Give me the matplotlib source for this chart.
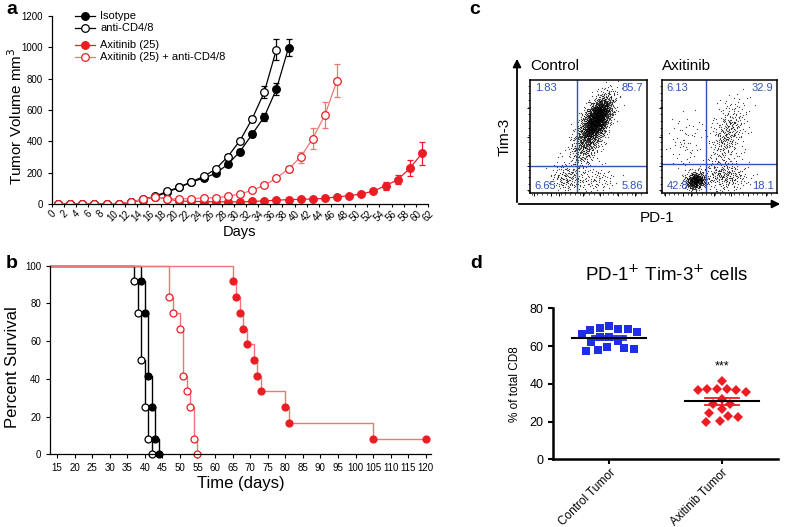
import numpy as np
import matplotlib
matplotlib.use('Agg')
import matplotlib.pyplot as plt
import matplotlib.patches as mpatches

plt.rcParams['font.family'] = ['Liberation Sans', 'DejaVu Sans']

# ---------------- panel a : tumour growth ----------------
iso_days = [1, 3, 5, 7, 9, 11, 13, 15, 17, 19, 21, 23, 25, 27, 29, 31, 33, 35, 37, 39]
iso_vol = [0, 0, 0, 0, 0, 2, 12, 28, 45, 76, 106, 140, 165, 195, 254, 335, 445, 557, 733, 997]
iso_err = [0, 0, 0, 0, 0, 1, 3, 5, 6, 8, 8, 10, 10, 12, 15, 18, 20, 25, 40, 55]

cd48_days = [1, 3, 5, 7, 9, 11, 13, 15, 17, 19, 21, 23, 25, 27, 29, 31, 33, 35, 37]
cd48_vol = [0, 0, 0, 0, 0, 2, 12, 30, 50, 80, 108, 142, 176, 223, 303, 405, 543, 714, 986]
cd48_err = [0, 0, 0, 0, 0, 1, 3, 5, 6, 8, 8, 10, 10, 12, 15, 18, 20, 40, 65]

axi_days = [1, 3, 5, 7, 9, 11, 13, 15, 17, 19, 21, 23, 25, 27, 29, 31, 33, 35, 37, 39,
            41, 43, 45, 47, 49, 51, 53, 55, 57, 59, 61]
axi_vol = [0, 0, 0, 0, 0, 2, 13, 28, 45, 32, 19, 17, 15, 14, 14, 13, 16, 20, 24, 28,
           30, 32, 36, 46, 53, 64, 82, 117, 155, 228, 323]
axi_err = [0, 0, 0, 0, 0, 1, 3, 4, 5, 4, 3, 3, 3, 3, 3, 3, 3, 3, 4, 4,
           4, 5, 5, 6, 6, 8, 12, 25, 30, 50, 75]

axicd_days = [1, 3, 5, 7, 9, 11, 13, 15, 17, 19, 21, 23, 25, 27, 29, 31, 33, 35, 37, 39,
              41, 43, 45, 47]
axicd_vol = [0, 0, 0, 0, 0, 3, 12, 30, 45, 35, 32, 35, 38, 40, 49, 64, 87, 119, 165, 225,
             299, 418, 568, 787]
axicd_err = [0, 0, 0, 0, 0, 1, 3, 4, 5, 4, 4, 4, 4, 4, 5, 6, 6, 8, 12, 20,
             35, 65, 80, 105]

# ---------------- panel b : survival ----------------
iso_t = [39, 40, 41, 42, 43, 44]
iso_s = [91.7, 75, 41.7, 25, 8.3, 0]
cd48_t = [37, 38, 39, 40, 41, 42]
cd48_s = [91.7, 75, 50, 25, 8.3, 0]
axicd_t = [47, 48, 50, 51, 52, 53, 54, 55]
axicd_s = [83.3, 75, 66.7, 41.7, 33.3, 25, 8.3, 0]
axi_t = [65, 66, 67, 68, 69, 71, 72, 73, 80, 81, 105, 120]
axi_s = [91.7, 83.3, 75, 66.7, 58.3, 50, 41.7, 33.3, 25, 16.7, 8.3, 8.3]

# ---------------- panel c : flow quadrants ----------------
flow_names = ['Control', 'Axitinib']
quad_vals = [['1.83', '85.7', '6.65', '5.86'], ['6.13', '32.9', '42.8', '18.1']]
quad_split = [(0.40, 0.24), (0.385, 0.255)]
# cloud shape: cx, cy, sx, sy, rho, weight
ctrl_clusters = [(0.58, 0.67, 0.065, 0.10, 0.55, 1.0),
                 (0.50, 0.50, 0.08, 0.14, 0.55, 0.30),
                 (0.31, 0.13, 0.07, 0.07, 0.0, 0.12),
                 (0.55, 0.12, 0.10, 0.06, 0.0, 0.06)]
axi_clusters = [(0.29, 0.11, 0.045, 0.04, 0.1, 1.0),
                (0.57, 0.52, 0.08, 0.15, 0.45, 0.13),
                (0.55, 0.15, 0.10, 0.07, 0.0, 0.14),
                (0.20, 0.45, 0.08, 0.15, 0.0, 0.02)]

# ---------------- panel d : PD-1+ Tim-3+ ----------------
groups_d = ['Control Tumor', 'Axitinib Tumor']
ctrl_pct = [70.8, 69.1, 66.2, 64.6, 68.5, 62.9, 64.6, 69.1, 67.3, 69.8, 62.0,
            59.7, 58.5, 57.6, 57.9, 58.8]
axi_pct = [41.7, 37.3, 37.1, 36.7, 35.9, 36.7, 37.3, 31.8, 29.3, 29.3, 26.7,
           24.7, 22.3, 23.0, 20.0, 20.5]

RED = '#ec1c24'
LRED = '#f37474'
BLUE = '#1f2ee6'
QBLUE = '#2f55b5'

W, H = 787, 527
fig = plt.figure(figsize=(W / 100, H / 100), dpi=100)


def rect(x0, y0, x1, y1):
    return [x0 / W, 1 - y1 / H, (x1 - x0) / W, (y1 - y0) / H]


def fpos(x, y):
    return x / W, 1 - y / H


# ---- a
ax = fig.add_axes(rect(52, 16, 428, 204))
series = [(iso_days, iso_vol, iso_err, 'k', 'k', 'k'),
          (cd48_days, cd48_vol, cd48_err, 'k', 'k', 'white'),
          (axi_days, axi_vol, axi_err, RED, RED, RED),
          (axicd_days, axicd_vol, axicd_err, LRED, RED, 'white')]
for d, v, e, lc, mec, mfc in series:
    ax.errorbar(d, v, yerr=e, color=lc, lw=0.9, marker='o', ms=5.5, mec=mec, mfc=mfc,
                mew=0.9, ecolor=lc, elinewidth=0.9, capsize=2.5, capthick=0.9)
ax.set_xlim(0, 62)
ax.set_ylim(0, 1200)
ax.set_xticks(range(0, 63, 2))
ax.set_xticklabels([str(i) for i in range(0, 63, 2)], rotation=45, fontsize=7)
ax.set_yticks(range(0, 1201, 200))
ax.tick_params(axis='y', labelsize=7, length=3, width=0.8)
ax.tick_params(axis='x', length=2.5, width=0.8, pad=1)
for s in ['top', 'right']:
    ax.spines[s].set_visible(False)
for s in ['left', 'bottom']:
    ax.spines[s].set_linewidth(0.9)
ax.set_xlabel('Days', fontsize=10.5, labelpad=1)
ax.set_ylabel('Tumor Volume mm$^3$', fontsize=11)
ax.yaxis.set_label_coords(-0.072, 0.468)

leg_rows = [('Isotype', 'k', 'k', 'k', 1.0),
            ('anti-CD4/8', 'k', 'k', 'white', 0.936),
            ('Axitinib (25)', RED, RED, RED, 0.848),
            ('Axitinib (25) + anti-CD4/8', LRED, RED, 'white', 0.782)]
for lab, lc, mec, mfc, yy in leg_rows:
    ax.plot([0.062, 0.114], [yy, yy], transform=ax.transAxes, color=lc, lw=0.9, clip_on=False)
    ax.plot([0.088], [yy], transform=ax.transAxes, marker='o', ms=5.5, mec=mec, mfc=mfc,
            mew=0.9, clip_on=False)
    ax.text(0.128, yy, lab, transform=ax.transAxes, fontsize=8, va='center')

# ---- b
bx = fig.add_axes(rect(50, 265.7, 431, 454.3))
km = [(cd48_t, cd48_s, 'k', 'k', 'white'),
      (iso_t, iso_s, 'k', 'k', 'k'),
      (axicd_t, axicd_s, LRED, RED, 'white'),
      (axi_t, axi_s, LRED, RED, RED)]
for t, s, lc, mec, mfc in km:
    xs = [13] + list(t)
    ys = [100] + list(s)
    bx.step(xs, ys, where='post', color=lc, lw=1.0, clip_on=False)
    bx.plot(t, s, ls='none', marker='o', ms=5, mec=mec, mfc=mfc, mew=0.9, clip_on=False)
bx.set_xlim(13, 121.5)
bx.set_ylim(0, 100)
bx.set_xticks(range(15, 121, 5))
bx.set_yticks(range(0, 101, 20))
bx.tick_params(labelsize=7, length=3, width=0.8)
for s in ['top', 'right']:
    bx.spines[s].set_visible(False)
for s in ['left', 'bottom']:
    bx.spines[s].set_linewidth(0.9)
bx.set_xlabel('Time (days)', fontsize=12, labelpad=2)
bx.set_ylabel('Percent Survival', fontsize=12)
bx.yaxis.set_label_coords(-0.078, 0.463)


# ---- c : flow plots, deterministic Halton stipple following the read cloud shapes
def halton(n, base):
    out = np.zeros(n)
    i = np.arange(1, n + 1)
    f = 1.0
    while np.any(i > 0):
        f /= base
        out += f * (i % base)
        i //= base
    return out


NQ = 40000
qx, qy, qt = halton(NQ, 2), halton(NQ, 3), halton(NQ, 5)


def density(x, y, clusters):
    f = np.zeros_like(x)
    for cx, cy, sx, sy, rho, wt in clusters:
        u = (x - cx) / sx
        v = (y - cy) / sy
        f += wt * np.exp(-(u * u - 2 * rho * u * v + v * v) / (2 * (1 - rho * rho)))
    return f


boxes = [rect(530, 80, 647, 193), rect(662, 80, 777, 193)]
for k, (name, clus) in enumerate(zip(flow_names, [ctrl_clusters, axi_clusters])):
    cx_ = fig.add_axes(boxes[k])
    f = density(qx, qy, clus)
    keep = f > qt
    cx_.plot(qx[keep], qy[keep], 'o', ms=0.9, mew=0, color='k', alpha=0.75)
    vx, hy = quad_split[k]
    cx_.axvline(vx, color=QBLUE, lw=1.0)
    cx_.axhline(hy, color=QBLUE, lw=1.0)
    q = quad_vals[k]
    kw = dict(color=QBLUE, fontsize=8, transform=cx_.transAxes)
    cx_.text(0.04, 0.97, q[0], ha='left', va='top', **kw)
    cx_.text(0.97, 0.97, q[1], ha='right', va='top', **kw)
    cx_.text(0.04, 0.02, q[2], ha='left', va='bottom', **kw)
    cx_.text(0.97, 0.02, q[3], ha='right', va='bottom', **kw)
    cx_.set_xlim(0, 1)
    cx_.set_ylim(0, 1)
    cx_.set_xticks([0.03, 0.18, 0.25, 0.45, 0.6, 0.75, 0.9])
    cx_.set_yticks([0.03, 0.24, 0.5, 0.75])
    cx_.set_xticks(np.linspace(0.02, 0.95, 24), minor=True)
    cx_.set_yticks(np.linspace(0.02, 0.95, 16), minor=True)
    cx_.tick_params(which='both', labelbottom=False, labelleft=False, direction='out')
    cx_.tick_params(which='major', length=2.5, width=0.7)
    cx_.tick_params(which='minor', length=1.2, width=0.5)
    for s in cx_.spines.values():
        s.set_linewidth(1.1)
    fig.text(*fpos(boxes[k][0] * W, 66), name, fontsize=11, va='center', ha='left')

fig.patches.append(mpatches.FancyArrowPatch(
    fpos(517, 205), fpos(517, 56), transform=fig.transFigure, arrowstyle='-|>',
    mutation_scale=12, lw=1.3, color='k'))
fig.patches.append(mpatches.FancyArrowPatch(
    fpos(516, 204), fpos(783, 204), transform=fig.transFigure, arrowstyle='-|>',
    mutation_scale=12, lw=1.3, color='k'))
fig.text(*fpos(505, 137), 'Tim-3', fontsize=11, rotation=90, ha='center', va='center')
fig.text(*fpos(657, 218), 'PD-1', fontsize=11, ha='center', va='center')

# ---- d
dx = fig.add_axes(rect(553, 308.3, 778, 459.3))
dx.set_xlim(-0.5, 1.5)
dx.set_ylim(0, 80)


def swarm(vals, pos, d=9.5):
    pts = dx.transData.transform(np.column_stack([np.full(len(vals), pos), vals]))
    order = np.argsort(vals)[::-1]
    xs = np.zeros(len(vals))
    placed = []
    cands = sorted(np.arange(-70, 70.01, 0.5), key=lambda c: (abs(c), c))
    for i in order:
        for c in cands:
            ok = True
            for j in placed:
                if (c - xs[j]) ** 2 + (pts[i, 1] - pts[j, 1]) ** 2 < d * d:
                    ok = False
                    break
            if ok:
                xs[i] = c
                break
        placed.append(i)
    x_unit = dx.transData.transform((1, 0))[0] - dx.transData.transform((0, 0))[0]
    return pos + xs / x_unit


for pos, vals, col, mk, ms in [(0, ctrl_pct, BLUE, 's', 5.4), (1, axi_pct, RED, 'D', 5.2)]:
    xv = swarm(vals, pos)
    dx.plot(xv, vals, ls='none', marker=mk, ms=ms, color=col, mew=0)
    m = np.mean(vals)
    sem = np.std(vals, ddof=1) / np.sqrt(len(vals))
    dx.plot([pos - 0.33, pos + 0.33], [m, m], color='k', lw=1.5, zorder=4)
    dx.plot([pos - 0.15, pos + 0.15], [m + sem] * 2, color=col, lw=1.3, zorder=3)
    dx.plot([pos - 0.15, pos + 0.15], [m - sem] * 2, color=col, lw=1.3, zorder=3)
    dx.plot([pos, pos], [m - sem, m + sem], color=col, lw=1.3, zorder=3)

dx.text(1, 49, '***', ha='center', va='center', fontsize=9)
dx.set_xticks([0, 1])
dx.set_xticklabels(groups_d, rotation=45, ha='right', rotation_mode='anchor', fontsize=8.5)
dx.set_yticks(range(0, 81, 20))
dx.tick_params(axis='y', labelsize=9, length=3.5, width=1.5)
dx.tick_params(axis='x', length=3.5, width=1.5, pad=2)
for s in ['top', 'right']:
    dx.spines[s].set_visible(False)
for s in ['left', 'bottom']:
    dx.spines[s].set_linewidth(1.8)
dx.set_ylabel('% of total CD8', fontsize=8.5, labelpad=6)
fig.text(*fpos(667, 275), 'PD-1$^{+}$ Tim-3$^{+}$ cells', fontsize=13.5, ha='center', va='center')

# panel letters
for lab, x, y in [('a', 12, 10), ('b', 12, 263), ('c', 475, 10), ('d', 476, 263)]:
    fig.text(*fpos(x, y), lab, fontsize=14, fontweight='bold', ha='center', va='center')

fig.savefig('out.png', dpi=100)
